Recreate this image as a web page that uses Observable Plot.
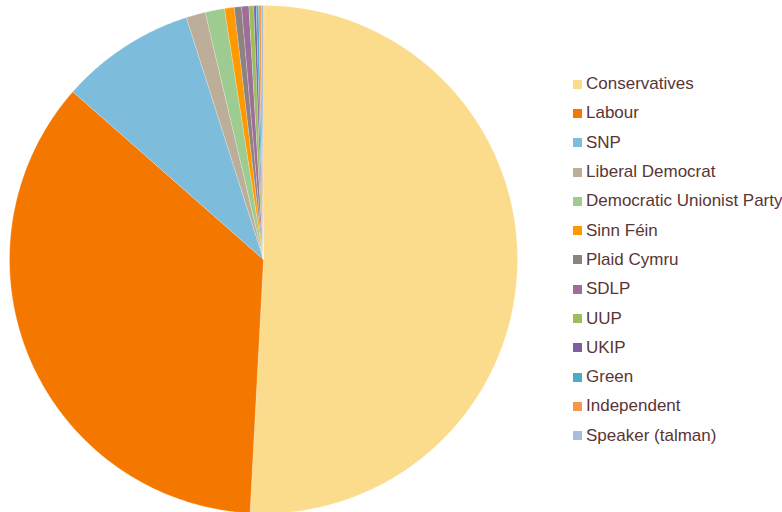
<!DOCTYPE html>
<html>
<head>
<meta charset="utf-8">
<script src="https://cdn.jsdelivr.net/npm/d3@7"></script>
<script src="https://cdn.jsdelivr.net/npm/@observablehq/plot@0.6"></script>
<style>
  html, body { margin: 0; padding: 0; background: #fff; }
  #wrap { position: relative; width: 782px; height: 512px; overflow: hidden; }
  #legend { position: absolute; left: 573px; top: 69.5px; font-family: "Liberation Sans", Arial, sans-serif; font-size: 17px; color: #5a3535; }
  .item { height: 29.3px; display: flex; align-items: center; white-space: nowrap; }
  .sw { width: 9px; height: 9px; margin-right: 4px; flex: none; }
</style>
</head>
<body>
<div id="wrap"><div id="chart"></div><div id="legend"></div></div>
<script>
const parties = ["Conservatives", "Labour", "SNP", "Liberal Democrat", "Democratic Unionist Party", "Sinn Féin", "Plaid Cymru", "SDLP", "UUP", "UKIP", "Green", "Independent", "Speaker (talman)"];
const seats = [331, 232, 56, 8, 8, 4, 3, 3, 2, 1, 1, 1, 1];
const colors = ["#fbdc8c", "#f47800", "#7ebcdc", "#bcae98", "#9ecb8f", "#ff9900", "#8c8280", "#9e6d98", "#9bbe5b", "#7f5fa0", "#4bacc6", "#f79646", "#a9bcd9"];

const data = parties.map((p, i) => ({party: p, seats: seats[i]}));
const arcs = d3.pie().sort(null).value(d => d.seats).startAngle(0).endAngle(2 * Math.PI)(data);

function wedge(a) {
  const pts = [[0, 0]];
  const n = Math.max(2, Math.ceil((a.endAngle - a.startAngle) / 0.01));
  for (let k = 0; k <= n; k++) {
    const t = a.startAngle + (a.endAngle - a.startAngle) * k / n;
    pts.push([Math.sin(t), Math.cos(t)]);
  }
  pts.push([0, 0]);
  return {type: "Feature", properties: {party: a.data.party}, geometry: {type: "Polygon", coordinates: [pts]}};
}
const features = arcs.map(wedge);

const plot = Plot.plot({
  width: 782,
  height: 512,
  marginLeft: 9,
  marginRight: 265,
  marginTop: 5,
  marginBottom: -1,
  projection: {type: "reflect-y", domain: {type: "MultiPoint", coordinates: [[-1, -1], [1, 1]]}},
  color: {domain: parties, range: colors},
  marks: [
    Plot.geo(features, {fill: d => d.properties.party, stroke: "white", strokeWidth: 0.5, strokeOpacity: 0.5})
  ]
});
document.getElementById("chart").appendChild(plot);

const legend = document.getElementById("legend");
parties.forEach((p, i) => {
  const it = document.createElement("div");
  it.className = "item";
  const sw = document.createElement("span");
  sw.className = "sw";
  sw.style.background = colors[i];
  const tx = document.createElement("span");
  tx.textContent = p;
  it.appendChild(sw); it.appendChild(tx);
  legend.appendChild(it);
});
</script>
</body>
</html>
